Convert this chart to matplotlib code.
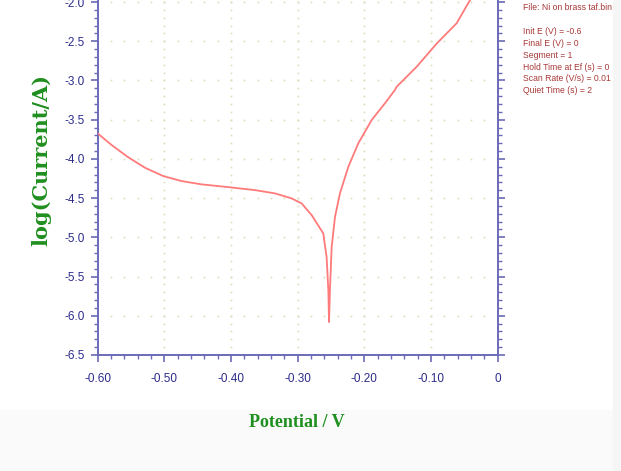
import numpy as np
import matplotlib
matplotlib.use("Agg")
import matplotlib.pyplot as plt
from matplotlib.ticker import MultipleLocator, FixedFormatter, FixedLocator

# Tafel scan, Ni on brass: potential (V) vs log(current/A)
# cathodic branch down to the corrosion potential, then anodic branch
potential = [-0.600, -0.579, -0.554, -0.529, -0.5016, -0.474, -0.444, -0.404,
             -0.364, -0.334, -0.309, -0.294, -0.279, -0.2616, -0.2566, -0.254,
             -0.253,
             -0.2516, -0.249, -0.244, -0.2366, -0.224, -0.209, -0.189, -0.169,
             -0.154, -0.1515, -0.1215, -0.0915, -0.0615, -0.0415, -0.020, 0.0]
log_current = [-3.675, -3.824, -3.98, -4.113, -4.219, -4.283, -4.325, -4.36,
               -4.398, -4.44, -4.504, -4.568, -4.717, -4.95, -5.25, -5.674,
               -6.08,
               -5.674, -5.12, -4.738, -4.44, -4.10, -3.80, -3.505, -3.29,
               -3.12, -3.08, -2.825, -2.53, -2.27, -1.975, -1.72, -1.47]

x_ticks = [-0.60, -0.50, -0.40, -0.30, -0.20, -0.10, 0.0]
x_labels = ["-0.60", "-0.50", "-0.40", "-0.30", "-0.20", "-0.10", "0"]
y_ticks = [-6.5, -6.0, -5.5, -5.0, -4.5, -4.0, -3.5, -3.0, -2.5, -2.0]
y_labels = ["-6.5", "-6.0", "-5.5", "-5.0", "-4.5", "-4.0", "-3.5", "-3.0", "-2.5", "-2.0"]

info_lines = ["Init E (V) = -0.6", "Final E (V) = 0", "Segment = 1",
              "Hold Time at Ef (s) = 0", "Scan Rate (V/s) = 0.01", "Quiet Time (s) = 2"]

sans = ["Liberation Sans", "DejaVu Sans"]
axis_col = "#6a6ab8"
tick_col = "#2c2c8c"
green = "#1f8f1f"
grid_col = "#dcdcbc"
info_col = "#a83838"

fig = plt.figure(figsize=(6.21, 4.71), dpi=100)
fig.patch.set_facecolor("white")
fig.patches.append(plt.Rectangle((0.0, 0.0), 1.0, 0.13, transform=fig.transFigure,
                                 color="#fafafa", zorder=-5))
fig.patches.append(plt.Rectangle((0.987, 0.0), 0.013, 1.0, transform=fig.transFigure,
                                 color="#f5f5f5", zorder=-5))

ax = fig.add_axes([0.1573, 0.2463, 0.6441, 0.8327])
ax.set_xlim(-0.60, 0.0)
ax.set_ylim(-6.5, -1.5)

# dotted grid: dots along the major lines at minor steps
minor_x = np.arange(-0.60, 0.0001, 0.02)
minor_y = np.arange(-6.5, -1.49, 0.1)
for yv in y_ticks:
    ax.plot(minor_x[1:-1], np.full(len(minor_x) - 2, yv), ls="none", marker="s",
            ms=1.2, mew=0, color=grid_col, zorder=1)
for xv in x_ticks[1:-1]:
    ax.plot(np.full(len(minor_y) - 1, xv), minor_y[1:], ls="none", marker="s",
            ms=1.2, mew=0, color=grid_col, zorder=1)

ax.plot(potential, log_current, color="#ff7a7a", lw=1.3, zorder=3)

ax.spines["top"].set_visible(False)
for side in ["left", "right", "bottom"]:
    ax.spines[side].set_color(axis_col)
    ax.spines[side].set_linewidth(1.4)

ax.xaxis.set_major_locator(FixedLocator(x_ticks))
ax.xaxis.set_major_formatter(FixedFormatter(x_labels))
ax.xaxis.set_minor_locator(MultipleLocator(0.02))
ax.yaxis.set_major_locator(FixedLocator(y_ticks))
ax.yaxis.set_major_formatter(FixedFormatter(y_labels))
ax.yaxis.set_minor_locator(MultipleLocator(0.1))

ax.tick_params(axis="both", which="major", direction="out", length=5, width=1.2,
               color=axis_col, labelcolor=tick_col, labelsize=8.5)
ax.tick_params(axis="both", which="minor", direction="out", length=3, width=1.0,
               color=axis_col)
ax.tick_params(axis="y", which="both", right=True)
ax.tick_params(axis="x", which="major", pad=8)
ax.tick_params(axis="y", which="major", pad=4)
for lab in ax.get_xticklabels() + ax.get_yticklabels():
    lab.set_family(sans)

fig.text(0.478, 0.102, "Potential / V", family=["Liberation Serif"], weight="bold",
         fontsize=13, color=green, ha="center", va="center")
fig.text(0.066, 0.66, "log(Current/A)", family=["DejaVu Serif"], weight="bold",
         fontsize=15, color=green, ha="center", va="center", rotation=90)

fig.text(0.842, 0.9845, "File: Ni on brass taf.bin", family=sans, fontsize=6.2,
         color=info_col, ha="left", va="center")
for i, line in enumerate(info_lines):
    fig.text(0.842, 1 - (31.7 + i * 11.8) / 471, line, family=sans, fontsize=6.2,
             color=info_col, ha="left", va="center")

fig.savefig("out.png", dpi=100)
